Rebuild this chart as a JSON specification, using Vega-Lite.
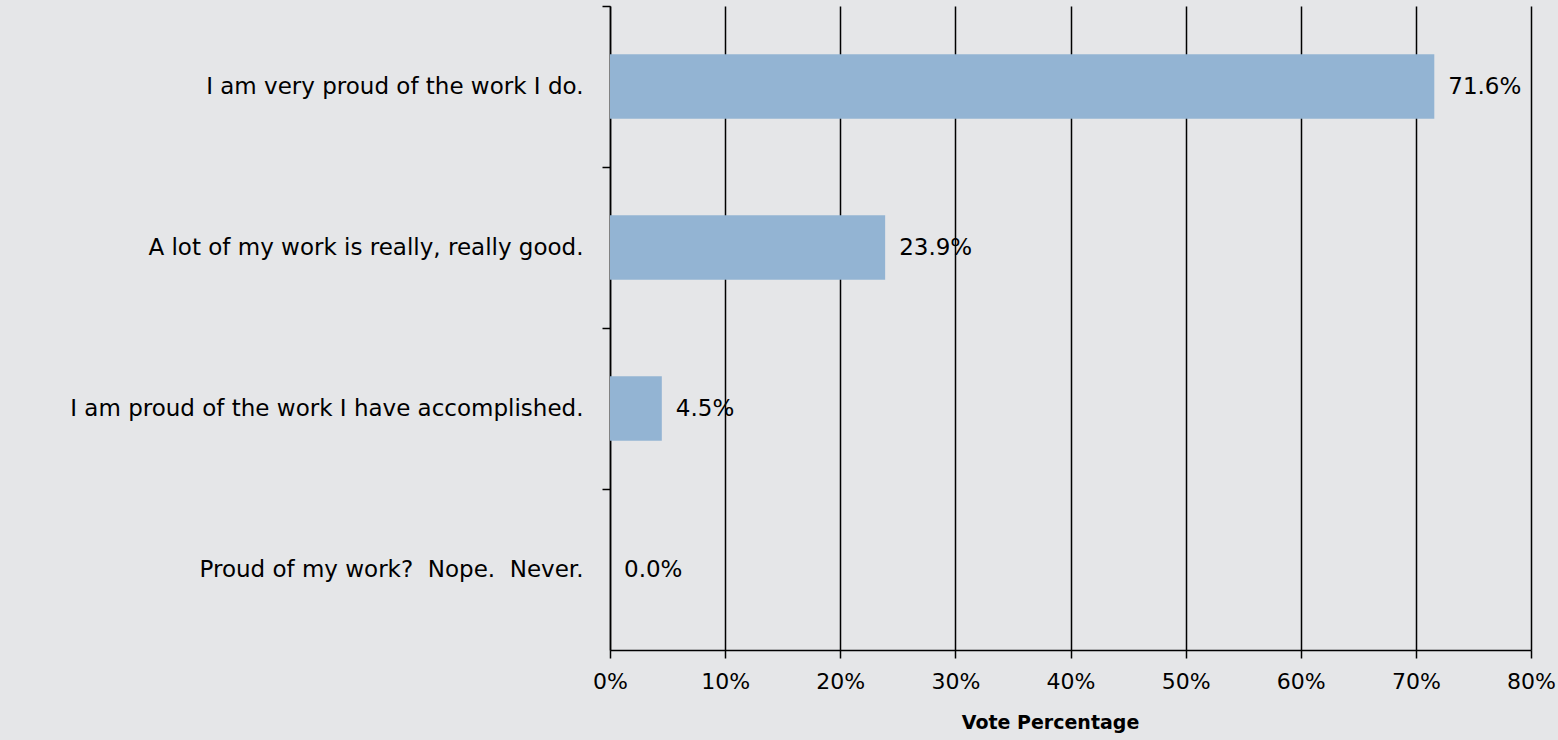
{
  "$schema": "https://vega.github.io/schema/vega-lite/v6.json",
  "width": 921,
  "height": 644,
  "autosize": {"type": "none"},
  "padding": {"left": 610, "top": 6, "right": 27, "bottom": 90},
  "background": "#e5e6e8",
  "config": {
    "view": {"stroke": null},
    "font": "DejaVu Sans"
  },
  "data": {
    "values": [
      {"answer": "I am very proud of the work I do.", "pct": 71.6, "label": "71.6%"},
      {"answer": "A lot of my work is really, really good.", "pct": 23.9, "label": "23.9%"},
      {"answer": "I am proud of the work I have accomplished.", "pct": 4.5, "label": "4.5%"},
      {"answer": "Proud of my work?\u00a0 Nope.\u00a0 Never.", "pct": 0.0, "label": "0.0%"}
    ]
  },
  "encoding": {
    "y": {
      "field": "answer",
      "type": "nominal",
      "sort": null,
      "scale": {"paddingInner": 0, "paddingOuter": 0},
      "axis": {
        "title": null,
        "bandPosition": 0,
        "domainColor": "#000000",
        "domainWidth": 1.5,
        "tickColor": "#000000",
        "tickWidth": 1.5,
        "tickSize": 8,
        "labelFontSize": 23,
        "labelColor": "#000000",
        "labelPadding": 19,
        "labelLimit": 700,
        "grid": false
      }
    }
  },
  "layer": [
    {
      "mark": {"type": "bar", "color": "#93b4d3", "height": {"band": 0.4}},
      "encoding": {
        "x": {
          "field": "pct",
          "type": "quantitative",
          "scale": {"domain": [0, 80], "nice": false},
          "axis": {
            "values": [0, 10, 20, 30, 40, 50, 60, 70, 80],
            "labelExpr": "datum.value + '%'",
            "labelFlush": false,
            "title": "Vote Percentage",
            "titleFontSize": 19,
            "titleFontWeight": "bold",
            "titleColor": "#000000",
            "titlePadding": 21,
            "titleX": 440,
            "titleAlign": "center",
            "grid": true,
            "gridColor": "#000000",
            "gridWidth": 1.5,
            "gridOpacity": 1,
            "domainColor": "#000000",
            "domainWidth": 1.5,
            "tickColor": "#000000",
            "tickWidth": 1.5,
            "tickSize": 8,
            "labelFontSize": 22,
            "labelColor": "#000000",
            "labelPadding": 13
          }
        }
      }
    },
    {
      "mark": {"type": "text", "align": "left", "baseline": "middle", "dx": 14, "fontSize": 23, "color": "#000000"},
      "encoding": {
        "x": {"field": "pct", "type": "quantitative"},
        "text": {"field": "label"}
      }
    }
  ]
}
